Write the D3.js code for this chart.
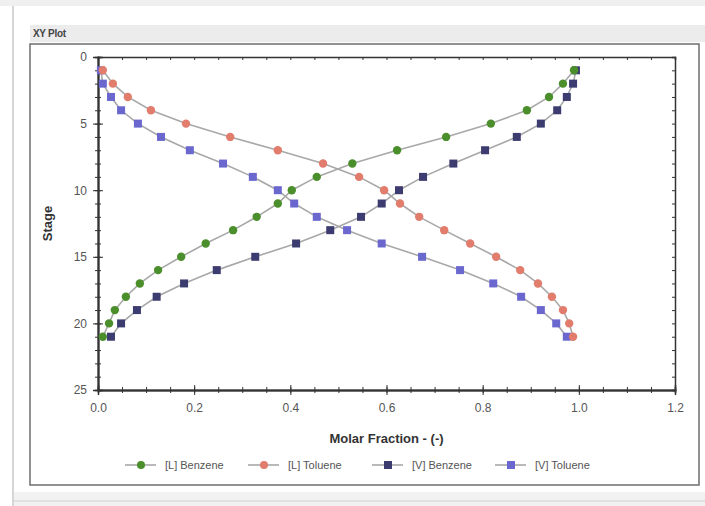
<!DOCTYPE html>
<html>
<head>
<meta charset="utf-8">
<script src="https://cdn.jsdelivr.net/npm/d3@7"></script>
<style>
  body { margin: 0; background: #fff; font-family: Arial, "Liberation Sans", sans-serif; }
  svg { display: block; }
</style>
</head>
<body>
<svg id="chart" width="705" height="506"></svg>
<script>
// stages 1..21
const stages = d3.range(1, 22);

const seriesNames = ["[L] Benzene", "[L] Toluene", "[V] Benzene", "[V] Toluene"];
const seriesColors = ["#4b8f2c", "#e27c6c", "#3c3c70", "#6a68cf"];
const seriesShapes = ["circle", "circle", "square", "square"];

const lBenzene = [0.990, 0.967, 0.938, 0.892, 0.817, 0.724, 0.622, 0.529, 0.455, 0.403,
                  0.374, 0.330, 0.281, 0.224, 0.173, 0.125, 0.087, 0.058, 0.035, 0.023, 0.010];
const lToluene = [0.010, 0.031, 0.062, 0.110, 0.183, 0.275, 0.374, 0.468, 0.543, 0.595,
                  0.628, 0.668, 0.720, 0.774, 0.828, 0.878, 0.915, 0.944, 0.967, 0.980, 0.988];
const vBenzene = [0.994, 0.988, 0.975, 0.955, 0.921, 0.871, 0.805, 0.739, 0.676, 0.626,
                  0.590, 0.547, 0.483, 0.412, 0.327, 0.247, 0.179, 0.122, 0.081, 0.048, 0.027];
const vToluene = [0.006, 0.010, 0.027, 0.048, 0.083, 0.131, 0.191, 0.260, 0.322, 0.374,
                  0.408, 0.455, 0.518, 0.590, 0.674, 0.753, 0.822, 0.880, 0.921, 0.953, 0.975];

const xTicks = [0, 0.2, 0.4, 0.6, 0.8, 1.0, 1.2];
const yTicks = [0, 5, 10, 15, 20, 25];

const allSeries = [lBenzene, lToluene, vBenzene, vToluene];

const svg = d3.select("#chart");

// window frame
svg.append("rect").attr("x", 0).attr("y", 0).attr("width", 705).attr("height", 6).attr("fill", "#f0f0f0");
svg.append("line").attr("x1", 13).attr("x2", 13).attr("y1", 6).attr("y2", 506).attr("stroke", "#c8c8c8").attr("stroke-width", 1.5);
svg.append("rect").attr("x", 30).attr("y", 25).attr("width", 675).attr("height", 17).attr("fill", "#ececec");
svg.append("text").attr("x", 33).attr("y", 37).text("XY Plot")
    .attr("font-size", 10).attr("font-weight", "bold").attr("fill", "#444")
    .attr("letter-spacing", "-0.3");
svg.append("rect").attr("x", 30).attr("y", 44).attr("width", 669).attr("height", 441)
    .attr("fill", "#fff").attr("stroke", "#6e6e6e").attr("stroke-width", 1.5);
svg.append("rect").attr("x", 14).attr("y", 492).attr("width", 691).attr("height", 14).attr("fill", "#f2f2f2");
svg.append("line").attr("x1", 14).attr("x2", 705).attr("y1", 501).attr("y2", 501).attr("stroke", "#d0d0d0");

// plot area
const plotLeft = 98, plotTop = 57, plotRight = 675, plotBottom = 390;

const x = d3.scaleLinear().domain([0, 1.2]).range([plotLeft, plotRight]);
const y = d3.scaleLinear().domain([0, 25]).range([plotTop, plotBottom]);

function styleAxis(g) {
    g.select(".domain").attr("stroke", "#333").attr("stroke-width", 1.5);
    g.selectAll(".tick line").attr("stroke", "#333").attr("stroke-width", 1);
    g.selectAll(".tick text").attr("fill", "#555").attr("font-size", 12)
        .attr("font-family", "Arial, 'Liberation Sans', sans-serif");
}

// bottom axis: major ticks crossing, minor ticks crossing
const xMinor = d3.range(0, 1.2001, 0.05);
svg.append("g").attr("transform", `translate(0,${plotBottom})`)
    .call(d3.axisBottom(x).tickValues(xMinor).tickSize(3).tickFormat(""))
    .call(styleAxis);
svg.append("g").attr("transform", `translate(0,${plotBottom})`)
    .call(d3.axisTop(x).tickValues(xMinor).tickSize(3).tickFormat(""))
    .call(styleAxis);
svg.append("g").attr("transform", `translate(0,${plotBottom})`)
    .call(d3.axisBottom(x).tickValues(xTicks).tickSize(5).tickPadding(8).tickFormat(d3.format(".1f")))
    .call(styleAxis);
svg.append("g").attr("transform", `translate(0,${plotBottom})`)
    .call(d3.axisTop(x).tickValues(xTicks).tickSize(5).tickFormat(""))
    .call(styleAxis);

// top axis, inward ticks
svg.append("g").attr("transform", `translate(0,${plotTop})`)
    .call(d3.axisBottom(x).tickValues(xMinor).tickSize(3).tickFormat(""))
    .call(styleAxis);

// left axis
const yMinor = d3.range(0, 26, 1);
svg.append("g").attr("transform", `translate(${plotLeft},0)`)
    .call(d3.axisLeft(y).tickValues(yMinor).tickSize(3).tickFormat(""))
    .call(styleAxis);
svg.append("g").attr("transform", `translate(${plotLeft},0)`)
    .call(d3.axisRight(y).tickValues(yMinor).tickSize(3).tickFormat(""))
    .call(styleAxis);
svg.append("g").attr("transform", `translate(${plotLeft},0)`)
    .call(d3.axisLeft(y).tickValues(yTicks).tickSize(5).tickPadding(6))
    .call(styleAxis);
svg.append("g").attr("transform", `translate(${plotLeft},0)`)
    .call(d3.axisRight(y).tickValues(yTicks).tickSize(5).tickFormat(""))
    .call(styleAxis);

// right axis, inward ticks
svg.append("g").attr("transform", `translate(${plotRight},0)`)
    .call(d3.axisLeft(y).tickValues(yMinor).tickSize(3).tickFormat(""))
    .call(styleAxis);

// axis titles
svg.append("text").attr("x", (plotLeft + plotRight) / 2).attr("y", 443)
    .attr("text-anchor", "middle").attr("font-size", 13).attr("font-weight", "bold")
    .attr("fill", "#333").text("Molar Fraction - (-)");
svg.append("text").attr("transform", `translate(52,${(plotTop + plotBottom) / 2}) rotate(-90)`)
    .attr("text-anchor", "middle").attr("font-size", 13).attr("font-weight", "bold")
    .attr("fill", "#333").text("Stage");

// series
const line = d3.line()
    .x(function (d) { return x(d[0]); })
    .y(function (d) { return y(d[1]); });

const seriesG = svg.append("g").attr("id", "seriesG");

allSeries.forEach(function (vals, i) {
    let pts = vals.map(function (v, j) { return [v, stages[j]]; });
    seriesG.append("path")
        .attr("d", line(pts))
        .attr("fill", "none")
        .attr("stroke", "#a8a8a8")
        .attr("stroke-width", 1.6);
});

// squares first, circles drawn over them
[2, 3, 0, 1].forEach(function (i) {
    let vals = allSeries[i];
    let pts = vals.map(function (v, j) { return [v, stages[j]]; });
    if (seriesShapes[i] === "circle") {
        seriesG.selectAll("circle.s" + i)
            .data(pts)
            .enter()
            .append("circle")
            .attr("class", "s" + i)
            .attr("cx", function (d) { return x(d[0]); })
            .attr("cy", function (d) { return y(d[1]); })
            .attr("r", 4.2)
            .attr("fill", seriesColors[i]);
    } else {
        seriesG.selectAll("rect.s" + i)
            .data(pts)
            .enter()
            .append("rect")
            .attr("class", "s" + i)
            .attr("x", function (d) { return x(d[0]) - 4; })
            .attr("y", function (d) { return y(d[1]) - 4; })
            .attr("width", 8)
            .attr("height", 8)
            .attr("fill", seriesColors[i]);
    }
});

// legend
const legendX = [125, 248, 372, 495];
const legend = svg.append("g").attr("id", "legendG");
seriesNames.forEach(function (name, i) {
    let g = legend.append("g").attr("transform", `translate(${legendX[i]},465)`);
    g.append("line").attr("x1", 0).attr("x2", 31).attr("y1", 0).attr("y2", 0)
        .attr("stroke", "#a8a8a8").attr("stroke-width", 1.6);
    if (seriesShapes[i] === "circle") {
        g.append("circle").attr("cx", 16).attr("cy", 0).attr("r", 4).attr("fill", seriesColors[i]);
    } else {
        g.append("rect").attr("x", 12).attr("y", -4).attr("width", 8).attr("height", 8).attr("fill", seriesColors[i]);
    }
    g.append("text").attr("x", 40).attr("y", 4).attr("font-size", 11)
        .attr("fill", "#555").text(name);
});
</script>
</body>
</html>
